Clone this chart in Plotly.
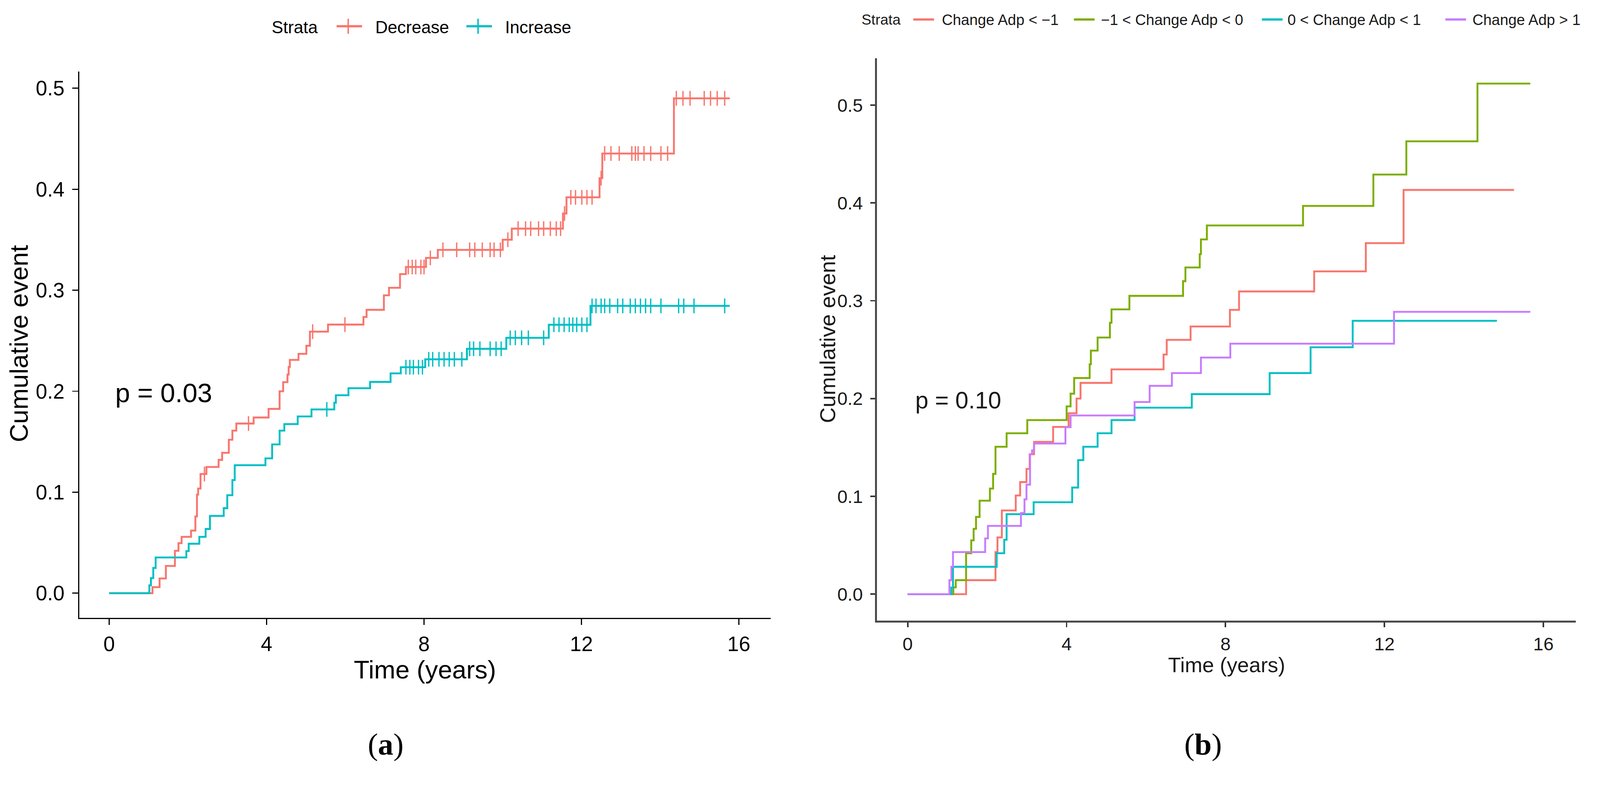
import plotly.graph_objects as go

W, H = 4264, 2047
FONT = "Liberation Sans, Arial, sans-serif"
SERIF = "Liberation Serif, Times New Roman, serif"

# ---------------- Panel (a) data ----------------
a_strata = ["Decrease", "Increase"]
a_colors = ["#F8766D", "#00BFC4"]

a_dec_t = [0, 1.10, 1.28, 1.44, 1.67, 1.76, 1.84, 2.08, 2.19, 2.23, 2.26, 2.32, 2.47, 2.78, 2.87,
           3.04, 3.13, 3.23, 3.67, 4.05, 4.33, 4.42, 4.53, 4.56, 4.59, 4.81, 5.01, 5.10, 5.56,
           6.46, 6.54, 6.98, 7.11, 7.39, 7.54, 8.05, 8.35, 10.00, 10.23, 11.53, 11.62, 12.46,
           12.53, 14.35, 15.77]
a_dec_v = [0, 0.006, 0.0146, 0.027, 0.042, 0.0495, 0.0558, 0.062, 0.076, 0.0976, 0.1036, 0.118,
           0.125, 0.132, 0.139, 0.152, 0.161, 0.168, 0.174, 0.1825, 0.200, 0.209, 0.2165, 0.224,
           0.231, 0.237, 0.245, 0.259, 0.266, 0.2735, 0.2806, 0.295, 0.3024, 0.316, 0.323, 0.332,
           0.340, 0.350, 0.361, 0.376, 0.392, 0.411, 0.4354, 0.490, 0.490]
a_dec_censor = [2.42, 3.54, 5.17, 5.99, 7.60, 7.70, 7.79, 7.92, 8.00, 8.16, 8.48, 8.83, 9.16, 9.29,
                9.48, 9.68, 9.78, 9.94, 10.13, 10.39, 10.58, 10.71, 10.91, 11.04, 11.21, 11.36,
                11.47, 11.57, 11.73, 11.85, 12.01, 12.14, 12.27, 12.50, 12.59, 12.75, 12.96, 13.28,
                13.37, 13.44, 13.59, 13.76, 14.02, 14.19, 14.41, 14.58, 14.76, 15.12, 15.28, 15.45,
                15.64]

a_inc_t = [0, 1.02, 1.06, 1.12, 1.18, 1.96, 2.02, 2.29, 2.45, 2.56, 2.91, 3.00, 3.13, 3.19, 3.97,
           4.14, 4.33, 4.45, 4.79, 5.14, 5.72, 5.76, 6.08, 6.63, 7.15, 7.41, 8.03, 9.09, 10.09,
           11.17, 12.23, 15.77]
a_inc_v = [0, 0.0078, 0.015, 0.025, 0.0354, 0.0417, 0.049, 0.0558, 0.0636, 0.0765, 0.0842, 0.097,
           0.112, 0.1267, 0.1335, 0.1473, 0.161, 0.1675, 0.175, 0.182, 0.1886, 0.196, 0.203,
           0.2092, 0.2177, 0.2238, 0.2316, 0.242, 0.2529, 0.2658, 0.2845, 0.2845]
a_inc_censor = [5.53, 7.54, 7.64, 7.73, 7.86, 7.96, 8.12, 8.22, 8.38, 8.51, 8.64, 8.77, 8.96, 9.16,
                9.26, 9.42, 9.68, 9.83, 9.96, 10.19, 10.32, 10.48, 10.65, 11.04, 11.30, 11.43,
                11.56, 11.69, 11.78, 11.88, 12.01, 12.14, 12.27, 12.37, 12.50, 12.59, 12.72, 12.92,
                13.05, 13.24, 13.37, 13.50, 13.63, 13.76, 14.02, 14.47, 14.60, 14.86, 15.64]

# ---------------- Panel (b) data ----------------
b_strata = ["Change Adp < \u22121", "\u22121 < Change Adp < 0", "0 < Change Adp < 1", "Change Adp > 1"]
b_colors = ["#F8766D", "#7CAE00", "#00BFC4", "#C77CFF"]

b_r_t = [0, 1.47, 2.21, 2.26, 2.37, 2.72, 2.83, 2.99, 3.07, 3.18, 3.66, 4.05, 4.25, 4.35, 5.13,
         6.44, 6.52, 7.12, 8.11, 8.34, 10.23, 11.53, 12.48, 15.26]
b_r_v = [0, 0.0143, 0.043, 0.058, 0.0856, 0.1009, 0.1146, 0.128, 0.143, 0.1557, 0.171, 0.185,
         0.200, 0.216, 0.2298, 0.245, 0.260, 0.2737, 0.2907, 0.3095, 0.330, 0.3589, 0.4133, 0.4133]

b_g_t = [0, 1.15, 1.21, 1.47, 1.60, 1.66, 1.72, 1.81, 2.07, 2.15, 2.21, 2.49, 3.01, 4.00, 4.10,
         4.19, 4.58, 4.61, 4.78, 5.09, 5.13, 5.58, 6.93, 6.99, 7.35, 7.38, 7.53, 9.95, 11.72,
         12.55, 14.34, 15.67]
b_g_v = [0, 0.007, 0.0143, 0.0418, 0.055, 0.0668, 0.079, 0.0956, 0.108, 0.123, 0.1507, 0.1645,
         0.178, 0.192, 0.205, 0.221, 0.235, 0.249, 0.2624, 0.2775, 0.2912, 0.305, 0.320, 0.334,
         0.3476, 0.3627, 0.377, 0.397, 0.429, 0.463, 0.522, 0.522]

b_c_t = [0, 1.10, 1.14, 2.24, 2.43, 2.49, 3.17, 4.14, 4.29, 4.42, 4.78, 5.13, 5.71, 7.15, 9.11,
         10.14, 11.20, 14.83]
b_c_v = [0, 0.0068, 0.028, 0.0418, 0.0556, 0.0818, 0.094, 0.109, 0.137, 0.1507, 0.1645, 0.178,
         0.1907, 0.2045, 0.226, 0.2524, 0.2795, 0.2795]

b_p_t = [0, 1.05, 1.10, 1.14, 1.95, 2.02, 2.85, 2.94, 2.99, 3.08, 3.13, 3.18, 3.97, 4.10, 5.71,
         6.09, 6.65, 7.38, 8.12, 12.24, 15.67]
b_p_v = [0, 0.0143, 0.028, 0.043, 0.057, 0.0698, 0.083, 0.097, 0.112, 0.143, 0.147, 0.154,
         0.1707, 0.1827, 0.1965, 0.213, 0.226, 0.2419, 0.2561, 0.2887, 0.2887]

x_ticks = [0, 4, 8, 12, 16]
y_ticks = [0.0, 0.1, 0.2, 0.3, 0.4, 0.5]
y_ticktext = ["0.0", "0.1", "0.2", "0.3", "0.4", "0.5"]
legend_title = "Strata"
x_title = "Time (years)"
y_title = "Cumulative event"
p_text_a = "p = 0.03"
p_text_b = "p = 0.10"


def level_at(ts, vs, t):
    lv = vs[0]
    for ti, vi in zip(ts, vs):
        if ti <= t:
            lv = vi
    return lv


def px_x(p):
    return p / W


def px_y(p):
    return 1 - p / H


fig = go.Figure()

# Panel a curves + censor marks
for color, ts, vs, cens in [(a_colors[0], a_dec_t, a_dec_v, a_dec_censor),
                            (a_colors[1], a_inc_t, a_inc_v, a_inc_censor)]:
    fig.add_trace(go.Scatter(x=ts, y=vs, mode="lines", line=dict(color=color, width=5, shape="hv"),
                             xaxis="x", yaxis="y", showlegend=False, hoverinfo="skip"))
    fig.add_trace(go.Scatter(x=cens, y=[level_at(ts, vs, c) for c in cens], mode="markers",
                             marker=dict(symbol="line-ns", size=28, line=dict(color=color, width=3.5)),
                             xaxis="x", yaxis="y", showlegend=False, hoverinfo="skip"))

# Panel b curves
for color, ts, vs in zip(b_colors, [b_r_t, b_g_t, b_c_t, b_p_t], [b_r_v, b_g_v, b_c_v, b_p_v]):
    fig.add_trace(go.Scatter(x=ts, y=vs, mode="lines", line=dict(color=color, width=5, shape="hv"),
                             xaxis="x2", yaxis="y2", showlegend=False, hoverinfo="skip"))

axis_common = dict(showgrid=False, zeroline=False, showline=True, ticks="outside", mirror=False,
                   automargin=False)

fig.update_layout(
    width=W, height=H, autosize=False, showlegend=False,
    margin=dict(l=0, r=0, t=0, b=0, autoexpand=False),
    paper_bgcolor="white", plot_bgcolor="white",
    font=dict(family=FONT, color="black"),
    xaxis=dict(domain=[px_x(211), px_x(2054)], range=[-0.763, 16.81], tickvals=x_ticks,
               anchor="y", linecolor="black", linewidth=3.3, ticklen=15, tickwidth=3.3,
               tickcolor="black", tickfont=dict(size=55, color="black"), ticklabelstandoff=4,
               **axis_common),
    yaxis=dict(domain=[px_y(1646), px_y(191)], range=[-0.0245, 0.5164], tickvals=y_ticks,
               ticktext=y_ticktext, anchor="x", linecolor="black", linewidth=3.3, ticklen=15,
               tickwidth=3.3, tickcolor="black", tickfont=dict(size=55, color="black"),
               ticklabelstandoff=10, **axis_common),
    xaxis2=dict(domain=[px_x(2337), px_x(4199)], range=[-0.774, 16.81], tickvals=x_ticks,
                anchor="y2", linecolor="#4a4a4a", linewidth=4.5, ticklen=13, tickwidth=3.5,
                tickcolor="#333333", tickfont=dict(size=49, color="#1a1a1a"), ticklabelstandoff=3,
                **axis_common),
    yaxis2=dict(domain=[px_y(1653), px_y(155)], range=[-0.027, 0.548], tickvals=y_ticks,
                ticktext=y_ticktext, anchor="x2", linecolor="#4a4a4a", linewidth=4.5, ticklen=13,
                tickwidth=3.5, tickcolor="#333333", tickfont=dict(size=49, color="#1a1a1a"),
                ticklabelstandoff=10, **axis_common),
)

annotations = [
    dict(text=x_title, x=px_x(1132), y=px_y(1783), xref="paper", yref="paper",
         showarrow=False, font=dict(size=68, family=FONT, color="black"),
         xanchor="center", yanchor="middle"),
    dict(text=y_title, x=px_x(50), y=px_y(916), xref="paper", yref="paper",
         showarrow=False, textangle=-90, font=dict(size=68, family=FONT, color="black"),
         xanchor="center", yanchor="middle"),
    dict(text=x_title, x=px_x(3269), y=px_y(1771), xref="paper", yref="paper",
         showarrow=False, font=dict(size=56, family=FONT, color="#1a1a1a"),
         xanchor="center", yanchor="middle"),
    dict(text=y_title, x=px_x(2205), y=px_y(903), xref="paper", yref="paper",
         showarrow=False, textangle=-90, font=dict(size=58, family=FONT, color="#1a1a1a"),
         xanchor="center", yanchor="middle"),
    dict(text=p_text_a, x=0.13, y=0.1985, xref="x", yref="y", showarrow=False,
         font=dict(size=71, family=FONT, color="black"), xanchor="left", yanchor="middle"),
    dict(text=p_text_b, x=0.17, y=0.1985, xref="x2", yref="y2", showarrow=False,
         font=dict(size=63, family=FONT, color="#1a1a1a"), xanchor="left", yanchor="middle"),
    dict(text="(<b>a</b>)", x=px_x(1028), y=px_y(1982), xref="paper", yref="paper",
         showarrow=False, font=dict(size=82, family=SERIF, color="black"),
         xanchor="center", yanchor="middle"),
    dict(text="(<b>b</b>)", x=px_x(3206), y=px_y(1982), xref="paper", yref="paper",
         showarrow=False, font=dict(size=82, family=SERIF, color="black"),
         xanchor="center", yanchor="middle"),
]
shapes = []

# ----- legend of panel a (title, keys with "+" glyph, labels) -----
la_y = 72
annotations.append(dict(text=legend_title, x=px_x(722), y=px_y(la_y), xref="paper", yref="paper",
                        showarrow=False, font=dict(size=46, family=FONT, color="black"),
                        xanchor="left", yanchor="middle"))
for name, color, k0, txt_x in zip(a_strata, a_colors, [897, 1243], [998, 1344]):
    shapes.append(dict(type="line", xref="paper", yref="paper", x0=px_x(k0), x1=px_x(k0 + 68),
                       y0=px_y(la_y - 2), y1=px_y(la_y - 2), line=dict(color=color, width=6)))
    shapes.append(dict(type="line", xref="paper", yref="paper", x0=px_x(k0 + 31), x1=px_x(k0 + 31),
                       y0=px_y(la_y - 22), y1=px_y(la_y + 18), line=dict(color=color, width=4)))
    annotations.append(dict(text=name, x=px_x(txt_x), y=px_y(la_y), xref="paper", yref="paper",
                            showarrow=False, font=dict(size=46, family=FONT, color="black"),
                            xanchor="left", yanchor="middle"))

# ----- legend of panel b -----
lb_y = 53
annotations.append(dict(text=legend_title, x=px_x(2294), y=px_y(lb_y), xref="paper", yref="paper",
                        showarrow=False, font=dict(size=39, family=FONT, color="#1a1a1a"),
                        xanchor="left", yanchor="middle"))
for name, color, k0, txt_x in zip(b_strata, b_colors, [2434, 2862, 3363, 3852],
                                  [2508, 2932, 3429, 3922]):
    shapes.append(dict(type="line", xref="paper", yref="paper", x0=px_x(k0), x1=px_x(k0 + 55),
                       y0=px_y(lb_y - 1), y1=px_y(lb_y - 1), line=dict(color=color, width=6)))
    annotations.append(dict(text=name, x=px_x(txt_x), y=px_y(lb_y), xref="paper", yref="paper",
                            showarrow=False, font=dict(size=40, family=FONT, color="#1a1a1a"),
                            xanchor="left", yanchor="middle"))

fig.update_layout(annotations=annotations, shapes=shapes)

# fit the fixed-size figure exactly into the browser viewport (no body margin / scrollbars)
post = """
document.documentElement.style.margin='0';
document.body.style.margin='0';
document.body.style.overflow='hidden';
var gd = document.getElementById('{plot_id}');
var s = Math.min(window.innerWidth / 4264, window.innerHeight / 2047);
if (s > 0 && Math.abs(s - 1) > 0.001) {
  gd.style.transformOrigin = '0 0';
  gd.style.transform = 'scale(' + s + ')';
}
"""

fig.write_html("out.html", post_script=post, config={"displayModeBar": False})
